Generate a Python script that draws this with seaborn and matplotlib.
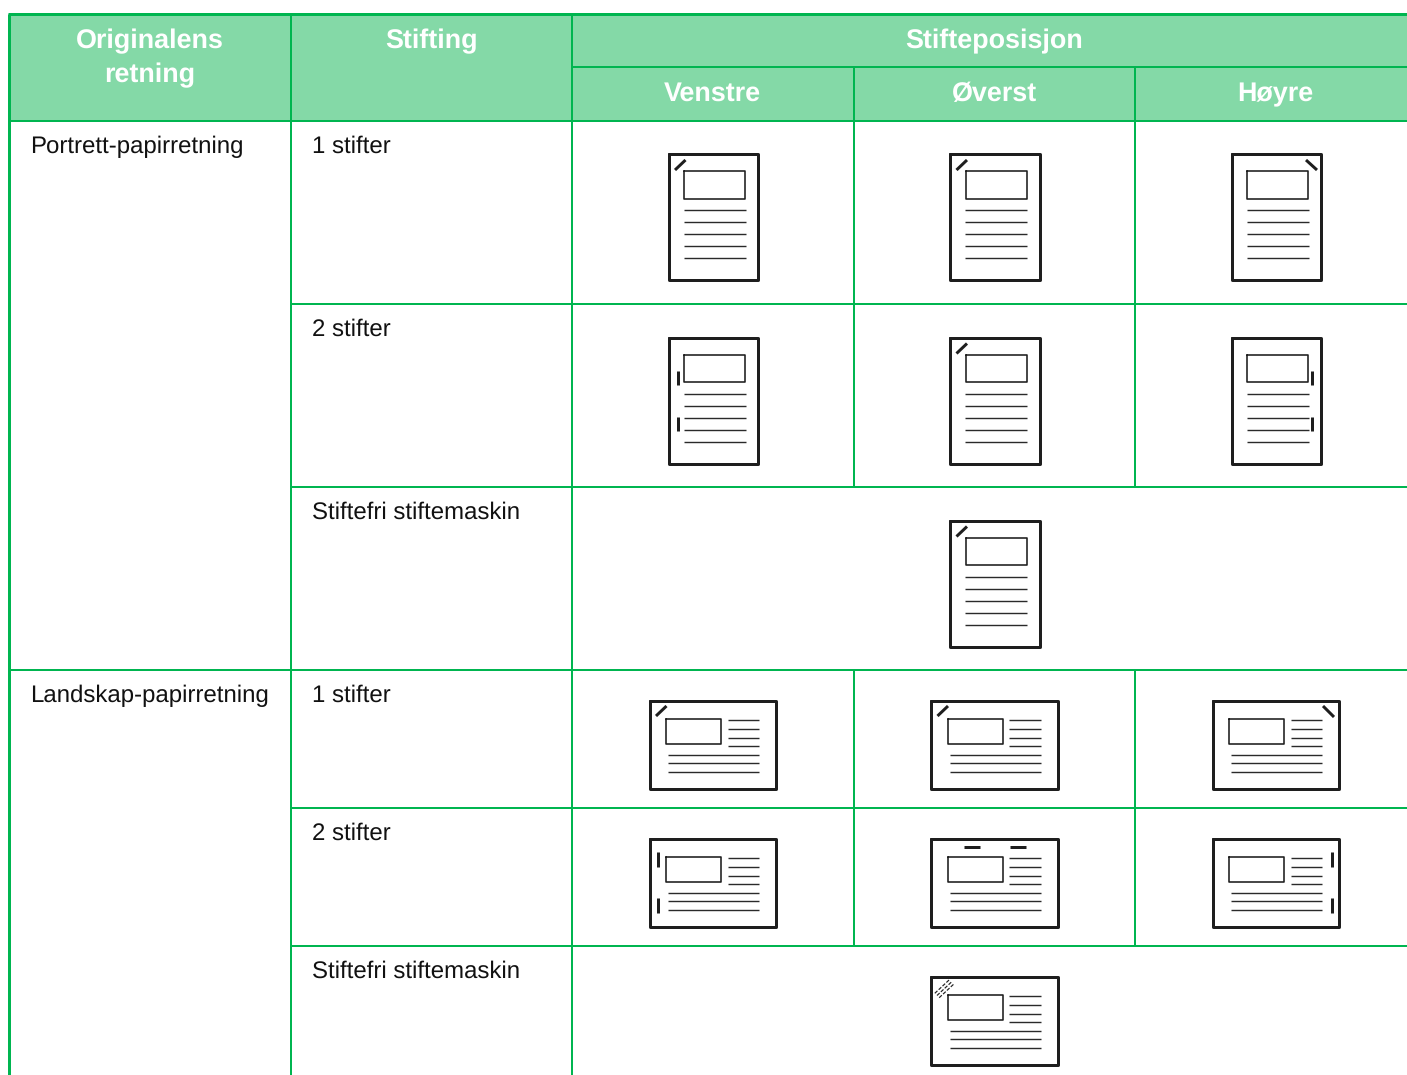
import matplotlib
matplotlib.use("Agg")
import matplotlib.pyplot as plt
import seaborn as sns

# ---- content ----
header_top = ["Originalens\nretning", "Stifting", "Stifteposisjon"]
header_sub = ["Venstre", "Øverst", "Høyre"]
orientations = ["Portrett-papirretning", "Landskap-papirretning"]
stapling = ["1 stifter", "2 stifter", "Stiftefri stiftemaskin"]
# staple mark drawn in each icon, row by row, per paper orientation
portrait_marks = [["diag_left", "diag_left", "diag_right"],
                  ["double_left", "diag_left", "double_right"],
                  [None, "diag_left", None]]
landscape_marks = [["diag_left", "diag_left", "diag_right"],
                   ["double_left", "double_top", "double_right"],
                   [None, "dashed", None]]

# ---- layout (pixels) ----
W, H = 1407, 1075
col_x = [10, 291, 572, 854, 1135, 1407]
row_y = [121, 304, 487, 670, 808, 946, 1075]
top, sub_y = 14, 67
GREEN, FILL, INK = "#00b550", "#84d9a7", "#1e1e1e"
px = 0.72

sns.set_theme(style="white")
plt.rcParams["font.family"] = ["Liberation Sans", "DejaVu Sans"]
plt.rcParams["text.hinting"] = "no_hinting"
fig = plt.figure(figsize=(W / 100, H / 100), dpi=100)
ax = fig.add_axes([0, 0, 1, 1])
ax.set_xlim(0, W)
ax.set_ylim(H, 0)
ax.axis("off")
sns.despine(ax=ax, left=True, bottom=True)

ax.fill_between([col_x[0], W], top, row_y[0], color=FILL, lw=0, zorder=0)


def rule(x0, y0, x1, y1, color=GREEN, w=2.0, **kw):
    ax.plot([x0, x1], [y0, y1], color=color, lw=w * px,
            solid_capstyle=kw.pop("cap", "butt"), **kw)


# table grid
rule(col_x[0] - 0.6, top, col_x[0] - 0.6, H, w=3)
rule(col_x[0] - 2, top, W, top, w=3)
rule(col_x[0], row_y[0], W, row_y[0])
rule(col_x[2], sub_y, W, sub_y)
for x in col_x[1:3]:
    rule(x, top, x, H)
for x in col_x[3:5]:
    rule(x, sub_y, x, row_y[0])
for i, y in enumerate(row_y[1:-1]):
    rule(col_x[1] if i != 2 else col_x[0], y, W, y)
for i in [0, 1, 3, 4]:
    for x in col_x[3:5]:
        rule(x, row_y[i], x, row_y[i + 1])

# header text
HS, BS = 19.35, 17.3
hk = dict(color="white", fontweight="bold", fontsize=HS, ha="center", va="baseline")
ax.text(150, 48, header_top[0].split("\n")[0], **hk)
ax.text(150, 82, header_top[0].split("\n")[1], **hk)
ax.text(431.5, 48, header_top[1], **hk)
ax.text(994, 48, header_top[2], **hk)
for cx, t in zip([712.5, 994, 1275], header_sub):
    ax.text(cx, 101, t, **hk)

# body text
bk = dict(color="#111111", fontsize=BS, ha="left", va="baseline")
ax.text(30.3, 153, orientations[0], **bk)
ax.text(30.3, 702, orientations[1], **bk)
for base, labels in [((153, 336, 519), stapling), ((702, 840, 978), stapling)]:
    for y, t in zip(base, labels):
        ax.text(312, y, t, **bk)


def frame(x0, y0, x1, y1, w, color=INK):
    ax.plot([x0, x1, x1, x0, x0], [y0, y0, y1, y1, y0], color=color,
            lw=w * px, solid_joinstyle="round", solid_capstyle="round")


def mark(kind, L, T, wide):
    w = 3.0
    if kind == "diag_left":
        d = -1 if wide else 0
        rule(L + 6.5, T + 16.5 + d, L + 17, T + 6.5 + d, INK, w)
    elif kind == "diag_right":
        if wide:
            rule(L + 110.5, T + 5.5, L + 121.5, T + 16.5, INK, w)
        else:
            rule(L + 74.5, T + 6.5, L + 85.5, T + 16.5, INK, w)
    elif kind in ("double_left", "double_right"):
        if wide:
            x = L + 8.5 if kind == "double_left" else L + 119
            spans = [(13.5, 28.5), (59.5, 74.5)]
        else:
            x = L + 9.5 if kind == "double_left" else L + 80.5
            spans = [(33.5, 47.5), (79.5, 94)]
        for a, b in spans:
            rule(x, T + a, x, T + b, INK, w)
    elif kind == "double_top":
        for a, b in [(33, 48.5), (79, 94.5)]:
            rule(L + a, T + 8.5, L + b, T + 8.5, INK, w)
    elif kind == "dashed":
        for o in (-2.2, 0, 2.2):
            ax.plot([L + 6 + o, L + 21 + o], [T + 19 + o, T + 5 + o], color="#222222",
                    lw=1.2 * px, ls=(0, (3, 1.4)))


def portrait_icon(L, T, kind):
    frame(L + 0.2, T + 0.5, L + 89.5, T + 126.5, 3)
    frame(L + 15.5, T + 17.5, L + 76.5, T + 45, 1.6)
    for dy in (56.5, 68.5, 80.5, 92.5, 104.5):
        rule(L + 15, T + dy, L + 77, T + dy, "#2a2a2a", 1.4)
    mark(kind, L, T, False)


def landscape_icon(L, T, kind):
    frame(L + 0.4, T + 0.5, L + 126.5, T + 88, 3)
    frame(L + 16.5, T + 18, L + 71.5, T + 43, 1.6)
    for dy in (19.5, 28.5, 37, 45.5):
        rule(L + 78, T + dy, L + 109.5, T + dy, "#2a2a2a", 1.4)
    for dy in (54, 62.5, 71.5):
        rule(L + 18.5, T + dy, L + 109.5, T + dy, "#2a2a2a", 1.4)
    mark(kind, L, T, True)


for T, marks in zip((153.5, 337, 520), portrait_marks):
    for L, kind in zip((668.5, 950, 1231.5), marks):
        if kind:
            portrait_icon(L, T, kind)
for T, marks in zip((700.5, 838.5, 976.5), landscape_marks):
    for L, kind in zip((649.5, 931, 1212.5), marks):
        if kind:
            landscape_icon(L, T, kind)

fig.savefig("out.png", dpi=100, facecolor="white")
